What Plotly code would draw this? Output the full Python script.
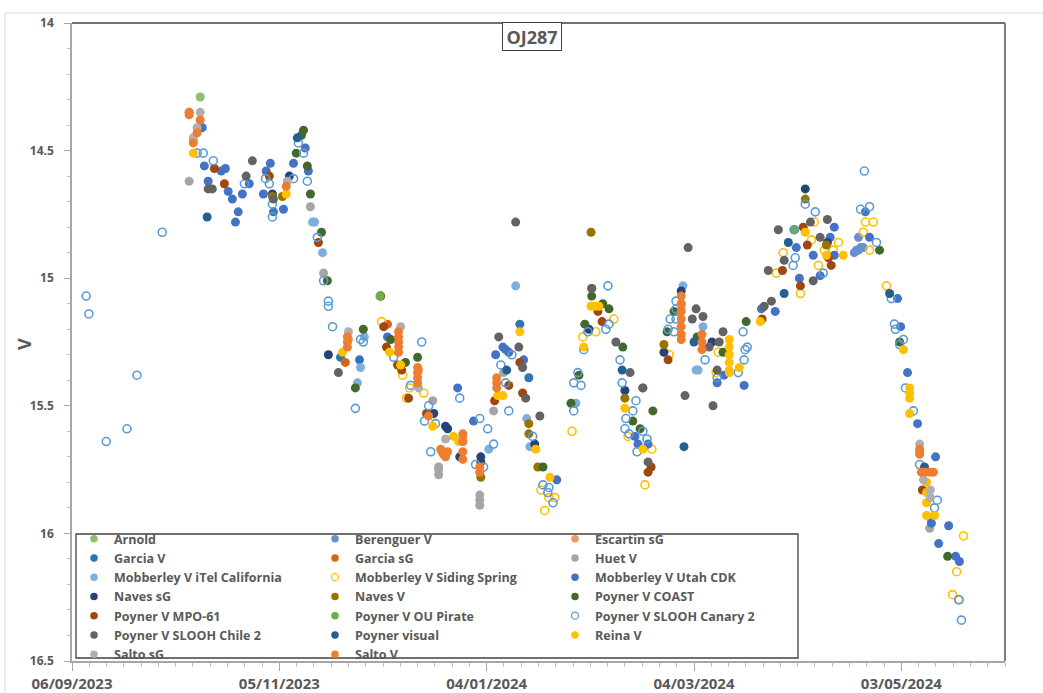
import numpy as np
import pandas as pd
import plotly.graph_objects as go

# ---------------- data: JD - 2460000 and V magnitude per observer ----------------
arnold_jd = [230.6]
arnold_v = [14.29]

berenguer_jd = [419.9, 420.5, 421.1, 421.7, 422.5, 421.1]
berenguer_v = [14.90, 14.89, 14.89, 14.88, 14.88, 14.84]

escartin_jd = [227.4, 228.6, 273.5, 293.8, 300.5, 306.6, 369.8, 438.8, 440.2]
escartin_v = [14.35, 14.46, 15.24, 15.36, 15.68, 15.62, 15.12, 15.68, 15.76]

garcia_v_jd = [271.2, 276.7, 323.1, 325.7]
garcia_v_v = [15.31, 15.32, 15.18, 15.39]

garcia_sg_jd = [284.8, 272.6]
garcia_sg_v = [15.18, 15.33]

huet_jd = [227.4, 262.5, 266.3, 297.9, 299.6, 299.6, 299.6, 311.5, 311.5, 311.5,
           315.5, 318.4, 441.9, 441.7]
huet_v = [14.62, 14.72, 14.98, 15.48, 15.74, 15.75, 15.77, 15.85, 15.87, 15.89,
          15.52, 15.37, 15.94, 15.98]

itel_jd = [321.9, 278.1, 277.0, 276.1, 263.1, 263.7, 266.0, 314.1, 325.1, 326.0,
           339.3, 370.3, 374.1, 374.7, 376.1]
itel_v = [15.03, 15.23, 15.35, 15.41, 14.78, 14.78, 14.90, 15.67, 15.55, 15.66,
          15.49, 15.03, 15.36, 15.36, 15.19]

siding_jd = [283.1, 289.2, 291.2, 295.3, 290.3, 338.2, 341.3, 345.1, 350.3, 354.4,
             361.3, 359.3, 329.2, 331.5, 333.2, 330.3, 366.3, 379.9, 380.5, 397.3,
             399.3, 404.3, 407.5, 408.3, 409.5, 411.2, 413.8, 415.3, 423.1, 425.4,
             422.5, 424.3, 429.2, 451.5, 449.5, 448.3, 450.3]
siding_v = [15.17, 15.38, 15.43, 15.45, 15.47, 15.60, 15.23, 15.21, 15.16, 15.62,
            15.67, 15.81, 15.83, 15.86, 15.86, 15.91, 15.30, 15.37, 15.29, 14.98,
            14.90, 15.06, 14.85, 14.78, 14.95, 14.89, 14.89, 14.86, 14.78, 14.78,
            14.82, 14.89, 15.03, 16.01, 16.15, 16.24, 16.26]

utah_jd = [231.2, 231.8, 232.9, 236.7, 237.9, 238.7, 239.9, 241.6, 240.8, 242.8,
           244.8, 248.9, 249.7, 250.9, 251.8, 254.7, 257.6, 261.0, 261.9,
           284.8, 305.1, 309.7, 316.1, 318.2, 319.0, 319.9, 324.2, 333.8,
           356.4, 357.3, 360.2, 382.2, 380.2, 388.0, 393.0, 397.0,
           403.1, 404.0, 408.0, 410.0, 412.9, 414.1, 414.1, 423.1, 424.3,
           432.4, 433.3, 435.3, 438.2, 443.4, 442.2, 447.2, 444.3, 449.2, 450.3]
utah_v = [14.41, 14.56, 14.62, 14.58, 14.57, 14.66, 14.69, 14.74, 14.78, 14.67,
          14.63, 14.67, 14.58, 14.55, 14.74, 14.73, 14.55, 14.49, 14.58,
          15.23, 15.43, 15.56, 15.30, 15.27, 15.28, 15.29, 15.32, 15.79,
          15.62, 15.65, 15.65, 15.38, 15.41, 15.42, 15.12, 15.13,
          14.88, 15.00, 14.91, 14.99, 14.84, 14.80, 14.91, 14.74, 14.84,
          15.08, 15.19, 15.37, 15.57, 15.70, 15.96, 15.97, 16.04, 16.09, 16.11]

naves_sg_jd = [251.5, 256.4, 267.7, 298.2, 302.2, 301.6, 305.7, 311.8, 311.8, 327.4,
               343.1, 353.5, 364.8, 369.8, 378.7, 405.7, 412.1]
naves_sg_v = [14.67, 14.60, 15.30, 15.53, 15.59, 15.58, 15.70, 15.70, 15.72, 15.65,
              15.20, 15.44, 15.29, 15.05, 15.25, 14.65, 14.86]

naves_v_jd = [251.5, 254.4, 311.8, 325.7, 325.7, 328.3, 343.7, 343.9, 353.5, 358.7,
              364.8, 405.7, 411.8]
naves_v_v = [14.68, 14.68, 15.78, 15.57, 15.61, 15.74, 14.82, 15.04, 15.47, 15.43,
             15.26, 14.69, 14.87]

coast_jd = [258.4, 260.5, 259.9, 261.6, 262.5, 265.7, 267.4, 277.8, 275.5, 282.8,
            285.7, 290.0, 293.5, 329.8, 343.9, 347.1, 348.9, 341.9, 340.2, 337.9,
            352.9, 361.6, 355.8, 357.9, 367.7, 365.7, 374.4, 381.9, 388.6, 402.5,
            427.2, 446.9, 433.0]
coast_v = [14.51, 14.42, 14.44, 14.56, 14.67, 14.82, 15.01, 15.20, 15.43, 15.07,
           15.24, 15.33, 15.31, 15.74, 15.07, 15.10, 15.12, 15.18, 15.38, 15.49,
           15.27, 15.52, 15.56, 15.59, 15.13, 15.21, 15.23, 15.29, 15.17, 14.81,
           14.89, 16.09, 15.25]

mpo_jd = [234.7, 237.6, 250.6, 264.8, 282.8, 283.7, 284.5, 287.7, 288.9, 290.9,
          296.1, 315.8, 319.9, 323.1, 323.9, 345.7, 346.9, 361.1, 360.2, 366.0,
          393.2, 399.1, 405.1, 406.3, 404.3, 412.4, 413.2, 439.6]
mpo_v = [14.57, 14.63, 14.60, 14.86, 15.07, 15.19, 15.27, 15.34, 15.36, 15.47,
         15.53, 15.48, 15.42, 15.33, 15.45, 15.13, 15.17, 15.74, 15.76, 15.32,
         15.16, 14.97, 14.80, 14.87, 15.03, 14.92, 14.95, 15.83]

pirate_jd = [282.6, 402.5]
pirate_v = [15.07, 14.81]

canary_jd = [197.6, 198.4, 203.4, 209.4, 212.3, 219.6,
             229.7, 231.5, 234.4, 243.4,
             249.5, 250.6, 251.5, 251.5,
             257.6, 259.0, 260.5, 261.6, 264.5,
             266.3, 267.7, 267.7, 268.9,
             277.0, 277.8, 275.5, 286.6, 294.7,
             291.5, 296.7, 295.5, 298.7, 297.3,
             305.7, 311.5, 313.8, 315.5, 310.3, 312.6,
             317.6, 320.8, 319.0, 319.9, 326.8,
             329.8, 331.5, 331.2, 332.7,
             348.6, 348.0, 348.9, 342.8, 341.6, 352.1,
             339.9, 338.7, 340.8, 338.7, 352.7,
             356.7, 355.8, 353.8, 353.5, 354.7, 358.7, 359.9, 357.0,
             368.3, 368.3, 368.3, 366.6, 366.0, 367.7,
             387.7, 388.9, 388.3, 376.7, 388.0, 386.3, 380.2,
             402.2, 402.8, 402.5, 408.6, 405.7, 410.9,
             422.8, 421.7, 424.3, 426.3,
             430.6, 431.5, 431.8, 434.1, 433.0, 434.7, 437.0, 438.8,
             443.9, 443.1, 450.1, 450.9]
canary_v = [15.07, 15.14, 15.64, 15.59, 15.38, 14.82,
            14.51, 14.51, 14.54, 14.63,
            14.61, 14.63, 14.76, 14.71,
            14.61, 14.47, 14.51, 14.62, 14.84,
            15.01, 15.11, 15.09, 15.19,
            15.24, 15.25, 15.51, 15.31, 15.25,
            15.42, 15.50, 15.56, 15.57, 15.68,
            15.47, 15.55, 15.59, 15.65, 15.73, 15.74,
            15.34, 15.30, 15.41, 15.52, 15.62,
            15.81, 15.82, 15.84, 15.88,
            15.03, 15.20, 15.18, 15.21, 15.28, 15.32,
            15.37, 15.41, 15.42, 15.52, 15.41,
            15.48, 15.52, 15.55, 15.59, 15.61, 15.60, 15.63, 15.68,
            15.09, 15.12, 15.16, 15.16, 15.20, 15.21,
            15.21, 15.27, 15.28, 15.32, 15.32, 15.37, 15.39,
            14.95, 14.92, 14.81, 14.74, 14.71, 14.98,
            14.58, 14.73, 14.72, 14.86,
            15.08, 15.18, 15.20, 15.24, 15.26, 15.43, 15.52, 15.73,
            15.87, 15.90, 16.26, 16.34]

chile_jd = [232.9, 234.1, 243.9, 245.7, 251.8, 270.6, 317.0, 321.9, 322.8, 323.9,
            324.8, 328.9, 343.9, 350.9, 355.0, 358.7, 360.2, 371.8, 370.9, 374.1,
            373.0, 376.1, 381.9, 377.9, 380.8, 380.2, 379.0, 393.8, 395.9,
            395.0, 399.6, 397.9, 407.2, 408.0, 410.0, 412.1]
chile_v = [14.65, 14.65, 14.60, 14.54, 14.69, 15.37, 15.23, 14.78, 15.27, 15.35,
           15.47, 15.54, 15.04, 15.25, 15.37, 15.43, 15.72, 14.88, 15.46, 15.12,
           15.16, 15.15, 15.21, 15.27, 15.25, 15.36, 15.50, 15.11, 15.09,
           14.97, 14.93, 14.81, 14.78, 15.01, 14.84, 14.77]

visual_jd = [232.6, 258.7, 319.3, 352.7, 373.5, 370.6, 399.6, 400.8, 430.1, 440.2]
visual_v = [14.76, 14.45, 15.36, 15.36, 15.25, 15.66, 15.06, 14.86, 15.06, 15.74]

reina_jd = [228.6, 255.5, 271.8, 285.4, 288.6, 297.9, 303.9, 305.4, 316.7, 318.2,
            323.1, 327.7, 331.8, 343.7, 344.8, 346.0, 341.6, 353.5, 358.7,
            383.7, 383.7, 383.7, 383.7, 383.7, 383.7, 386.6, 392.7, 405.7, 411.8,
            416.7, 434.1, 435.9, 435.9, 435.9, 435.9, 440.8, 440.8, 440.8, 440.8, 443.1]
reina_v = [14.51, 14.67, 15.29, 15.29, 15.34, 15.58, 15.62, 15.64, 15.46, 15.46,
           15.21, 15.67, 15.78, 15.11, 15.11, 15.11, 15.27, 15.51, 15.67,
           15.24, 15.27, 15.30, 15.33, 15.36, 15.37, 15.35, 15.17, 14.82, 14.91,
           14.91, 15.28, 15.43, 15.45, 15.47, 15.53, 15.80, 15.84, 15.88, 15.93, 15.93]

salto_sg_jd = [230.6, 229.7, 228.6, 255.8, 273.5, 288.6, 293.8, 301.6, 306.6, 369.8,
               438.8, 439.9, 441.9, 441.9]
salto_sg_v = [14.35, 14.41, 14.45, 14.62, 15.21, 15.19, 15.43, 15.63, 15.64, 15.10,
              15.65, 15.79, 15.83, 15.86]

salto_v_jd = [227.4, 227.4, 230.6, 229.7, 228.6, 255.5, 273.2, 273.2, 273.2,
              288.0, 288.0, 288.0, 288.0, 288.0, 293.5, 293.5, 293.5, 293.5, 296.7,
              300.2, 301.0, 301.6, 302.2, 306.6, 306.6, 306.6, 306.6, 311.5, 311.5,
              316.4, 316.4, 316.4,
              369.8, 369.8, 369.8, 369.8, 369.8, 369.8, 369.8,
              375.8, 375.8, 375.8, 438.8, 438.8, 439.3, 440.5, 441.7, 442.8]
salto_v_v = [14.35, 14.36, 14.38, 14.43, 14.47, 14.64, 15.23, 15.25, 15.27,
             15.21, 15.23, 15.25, 15.27, 15.29, 15.35, 15.37, 15.39, 15.41, 15.54,
             15.67, 15.69, 15.70, 15.68, 15.61, 15.64, 15.68, 15.71, 15.74, 15.76,
             15.39, 15.41, 15.43,
             15.07, 15.10, 15.13, 15.16, 15.19, 15.22, 15.24,
             15.22, 15.25, 15.28, 15.67, 15.69, 15.76, 15.76, 15.76, 15.76]

names = ["Arnold", "Berenguer V", "Escartin sG", "Garcia V", "Garcia sG", "Huet V",
         "Mobberley V iTel California", "Mobberley V Siding Spring", "Mobberley V Utah CDK",
         "Naves sG", "Naves V", "Poyner V COAST", "Poyner V MPO-61", "Poyner V OU Pirate",
         "Poyner V SLOOH Canary 2", "Poyner V SLOOH Chile 2", "Poyner visual", "Reina V",
         "Salto sG", "Salto V"]
series_jd = [arnold_jd, berenguer_jd, escartin_jd, garcia_v_jd, garcia_sg_jd, huet_jd,
             itel_jd, siding_jd, utah_jd, naves_sg_jd, naves_v_jd, coast_jd, mpo_jd,
             pirate_jd, canary_jd, chile_jd, visual_jd, reina_jd, salto_sg_jd, salto_v_jd]
series_v = [arnold_v, berenguer_v, escartin_v, garcia_v_v, garcia_sg_v, huet_v,
            itel_v, siding_v, utah_v, naves_sg_v, naves_v_v, coast_v, mpo_v,
            pirate_v, canary_v, chile_v, visual_v, reina_v, salto_sg_v, salto_v_v]
colors = ["#8CC168", "#698ED0", "#F1975A", "#2E75B6", "#D9631B", "#A5A5A5",
          "#7CAFDD", "#FFC000", "#4472C4", "#264478", "#997300", "#43682B",
          "#9E480E", "#70AD47", "#5B9BD5", "#636363", "#255E91", "#FFC000",
          "#AFAFAF", "#ED7D31"]
open_markers = {"Mobberley V Siding Spring", "Poyner V SLOOH Canary 2"}

JD0 = pd.Timestamp("2023-02-24 12:00:00")  # JD 2460000.0


def to_dates(jd):
    return JD0 + pd.to_timedelta(np.asarray(jd, dtype=float), unit="D")


# ---------------- figure ----------------
W, H = 1043, 693
L, R, T, B = 72, 1005, 23, 661
pw, ph = R - L, B - T


def px(x):
    return (x - L) / pw


def py(y):
    return (B - y) / ph


fig = go.Figure()
legend_ids = ["legend", "legend2", "legend3"]
for i, name in enumerate(names):
    is_open = name in open_markers
    sym = "circle-open" if is_open else "circle"
    # data marks
    fig.add_trace(go.Scatter(
        x=to_dates(series_jd[i]), y=series_v[i], mode="markers", name=name,
        marker=dict(color=colors[i], size=8 if is_open else 9, symbol=sym,
                    line=dict(width=1.6 if is_open else 0, color=colors[i])),
        showlegend=False, legendgroup=name))
    # legend entry (smaller symbol, as in the reference legend)
    fig.add_trace(go.Scatter(
        x=[None], y=[None], mode="markers", name=name,
        marker=dict(color=colors[i], size=7 if is_open else 7.5, symbol=sym,
                    line=dict(width=1.3 if is_open else 0, color=colors[i])),
        showlegend=True, legendgroup=name, legend=legend_ids[i % 3]))

txt = "#595959"
legend_common = dict(orientation="v", xanchor="left", yanchor="top",
                     bgcolor="rgba(0,0,0,0)", borderwidth=0,
                     font=dict(family="Open Sans", size=12.5, color=txt, weight="bold"),
                     tracegroupgap=0, itemclick=False, itemdoubleclick=False)
legend_top = py(524)

fig.update_layout(
    width=W, height=H,
    margin=dict(l=L, r=W - R, t=T, b=H - B, pad=0, autoexpand=False),
    paper_bgcolor="white", plot_bgcolor="white",
    showlegend=True,
    legend=dict(x=px(74), y=legend_top, **legend_common),
    legend2=dict(x=px(315), y=legend_top, **legend_common),
    legend3=dict(x=px(555), y=legend_top, **legend_common),
    xaxis=dict(
        type="date", range=["2023-09-06", "2024-06-02"], automargin=False,
        tick0="2023-09-06", dtick=60 * 86400000, tickformat="%d/%m/%Y",
        ticks="outside", ticklen=8, tickwidth=1, tickcolor="#A6A6A6",
        showline=True, linecolor="#A6A6A6", linewidth=1.5,
        showgrid=False, zeroline=False,
        minor=dict(dtick=5 * 86400000, tick0="2023-09-06", ticks="outside",
                   ticklen=4, tickcolor="#BFBFBF", showgrid=False),
        tickfont=dict(family="Open Sans", size=15, color=txt, weight="bold"),
        ticklabelstandoff=0,
    ),
    yaxis=dict(
        range=[16.5, 14], tick0=14, dtick=0.5, automargin=False,
        ticks="outside", ticklen=6, tickwidth=1, tickcolor="#A6A6A6",
        showline=True, linecolor="#A6A6A6", linewidth=1.5,
        showgrid=False, zeroline=False,
        minor=dict(dtick=0.1, ticks="outside", ticklen=3, tickcolor="#BFBFBF", showgrid=False),
        tickfont=dict(family="Open Sans", size=12, color=txt, weight="bold"),
        ticklabelstandoff=8,
    ),
    shapes=[
        dict(type="rect", xref="paper", yref="paper", x0=px(5), x1=px(1070), y0=py(720), y1=py(13),
             line=dict(color="#D9D9D9", width=1), fillcolor="rgba(0,0,0,0)", layer="below"),
        dict(type="line", xref="paper", yref="paper", x0=0, x1=1, y0=1, y1=1,
             line=dict(color="#404040", width=1.5), layer="above"),
        dict(type="line", xref="paper", yref="paper", x0=1, x1=1, y0=0, y1=1,
             line=dict(color="#7F7F7F", width=2), layer="above"),
        dict(type="rect", xref="paper", yref="paper", x0=px(76), x1=px(798), y0=py(658), y1=py(534),
             line=dict(color="#404040", width=1.3), fillcolor="white", layer="above"),
    ],
    annotations=[
        dict(text="OJ287", xref="paper", yref="paper", x=px(532), y=py(36.5),
             xanchor="center", yanchor="middle", showarrow=False,
             font=dict(family="Open Sans", size=18, color=txt, weight="bold"),
             bordercolor="#404040", borderwidth=1, borderpad=1, bgcolor="white",
             width=56, height=25),
        dict(text="V", xref="paper", yref="paper", x=px(24), y=py(344),
             xanchor="center", yanchor="middle", showarrow=False, textangle=-90,
             font=dict(family="Open Sans", size=18, color=txt, weight="bold")),
    ],
)

fig.write_html("out.html")
